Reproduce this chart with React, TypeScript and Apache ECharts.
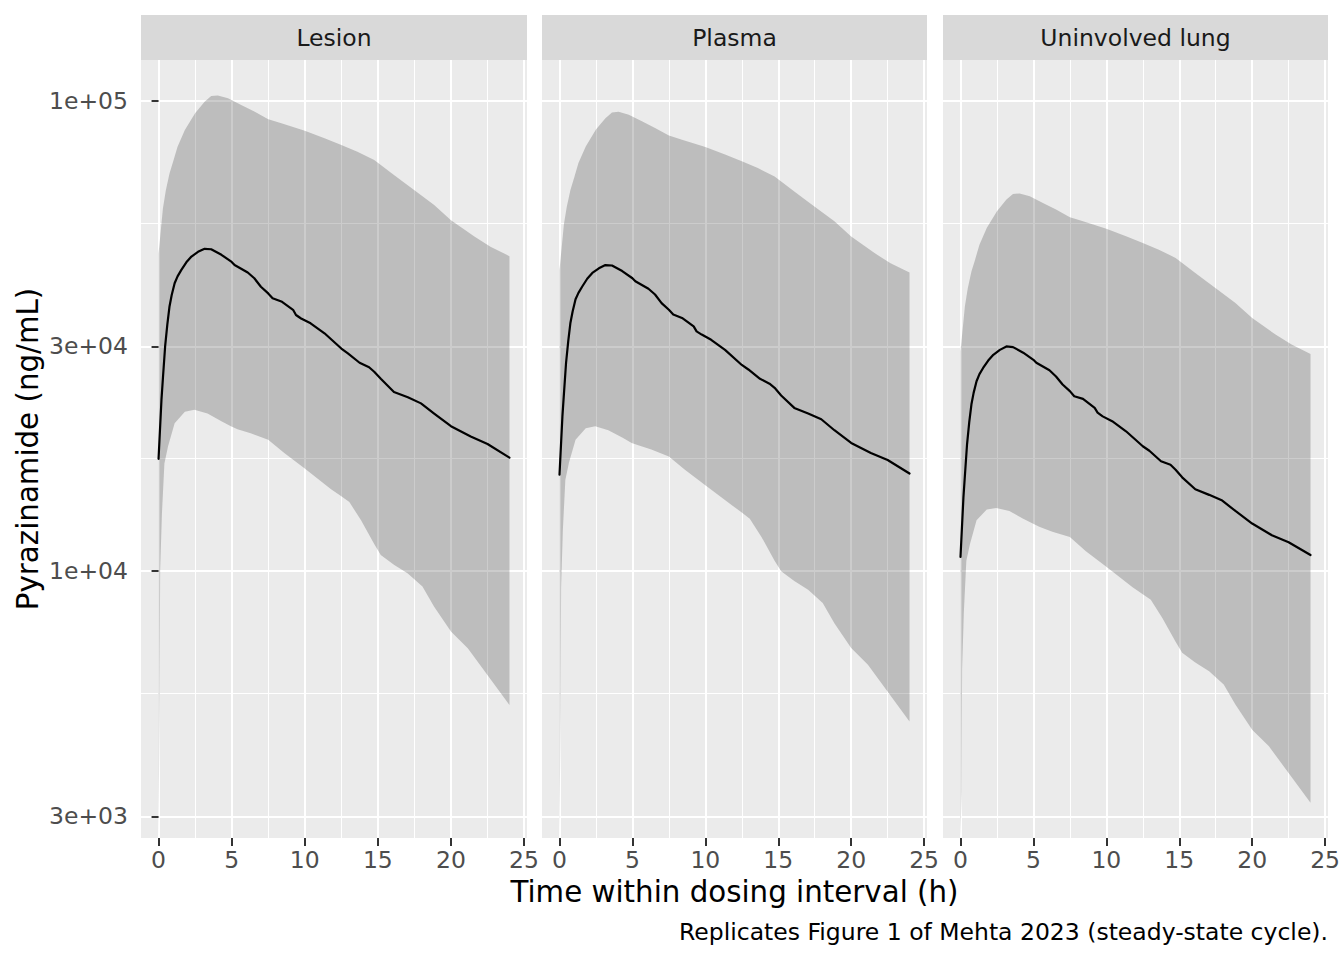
import React, { useEffect, useRef } from "react";
import * as echarts from "echarts";

// ---------- data ----------
const PANELS = ["Lesion", "Plasma", "Uninvolved lung"];

const X_TICKS = [0, 5, 10, 15, 20, 25];
const X_MINOR = [2.5, 7.5, 12.5, 17.5, 22.5];
const Y_TICK_VALUES = [3000, 10000, 30000, 100000];
const Y_TICK_LABELS = ["3e+03", "1e+04", "3e+04", "1e+05"];
const Y_MINOR_VALUES = [5477, 17321, 54772];

// median line
const MED_T = [0, 0.2, 0.3, 0.45, 0.6, 0.75, 0.9, 1.1, 1.3, 1.55, 1.9, 2.25, 2.7, 3.15, 3.6, 4.3, 5, 5.2, 6.1, 6.55, 7, 7.5, 7.8, 8.4, 9.2, 9.4, 9.75, 10.4, 11.35, 12.5, 12.95, 13.75, 14.4, 14.75, 15.2, 16.1, 17.05, 17.95, 18.85, 20, 21.35, 22.5, 24];
const MED_LESION = [17300, 23100, 25700, 30000, 33400, 36500, 38600, 40900, 42300, 43600, 45300, 46600, 47700, 48400, 48300, 47000, 45400, 44700, 43100, 41900, 40200, 38900, 38000, 37400, 35900, 35000, 34400, 33600, 32000, 29700, 29000, 27700, 27100, 26500, 25600, 24000, 23400, 22700, 21600, 20300, 19300, 18600, 17400];
const MED_PLASMA = [16000, 21300, 23700, 27700, 30800, 33700, 35600, 37800, 39000, 40200, 41800, 43000, 44000, 44700, 44600, 43400, 41900, 41300, 39800, 38700, 37100, 35900, 35100, 34500, 33100, 32300, 31800, 31000, 29500, 27400, 26800, 25600, 25000, 24500, 23600, 22200, 21600, 21000, 19900, 18700, 17800, 17200, 16100];
const MED_LUNG = [10700, 14300, 15900, 18600, 20700, 22600, 23900, 25300, 26200, 27000, 28000, 28800, 29500, 30000, 29900, 29100, 28100, 27700, 26700, 25900, 24900, 24100, 23500, 23200, 22200, 21700, 21300, 20800, 19800, 18400, 18000, 17100, 16800, 16400, 15800, 14900, 14500, 14100, 13400, 12600, 11900, 11500, 10800];

// upper bound of interval
const UP_T = [0, 0.09, 0.18, 0.3, 0.5, 0.75, 1, 1.3, 1.8, 2.5, 3.15, 3.6, 4.05, 4.75, 5.65, 6.55, 7.5, 8.4, 10, 11.35, 12.5, 13.6, 14.75, 16.1, 17.5, 18.85, 20, 21.6, 22.7, 24];
const UP_LESION = [47300, 50500, 54000, 59000, 64500, 70000, 74200, 79800, 86600, 94000, 99500, 102300, 102600, 101200, 97900, 94800, 91300, 89500, 86300, 83200, 80500, 77900, 74800, 69500, 64500, 60000, 55700, 51400, 48900, 46700];
const UP_PLASMA = [43700, 46600, 49800, 54500, 59500, 64600, 68500, 73700, 79900, 86800, 91800, 94400, 94700, 93400, 90400, 87500, 84300, 82600, 79700, 76800, 74300, 71900, 69000, 64100, 59500, 55400, 51400, 47400, 45100, 43100];
const UP_LUNG = [29300, 31300, 33400, 36500, 39900, 43300, 45900, 49400, 53600, 58200, 61600, 63300, 63500, 62600, 60600, 58700, 56500, 55400, 53400, 51500, 49800, 48200, 46300, 43000, 39900, 37100, 34500, 31800, 30300, 28900];

// lower bound of interval (0 at t = 0)
const LO_T = [0, 0.07, 0.11, 0.23, 0.4, 0.65, 1.1, 1.8, 2.45, 3.35, 4.3, 4.95, 5.4, 6.3, 7.5, 8.6, 10, 11.8, 12.5, 13.05, 13.85, 14.75, 15.2, 16.1, 17.05, 18.05, 18.85, 20, 21.15, 24];
const LO_LESION = [0, 5480, 10000, 13200, 16900, 18400, 20600, 21800, 22000, 21600, 20800, 20300, 20000, 19600, 19000, 17800, 16500, 14900, 14400, 14000, 12800, 11400, 10800, 10300, 9870, 9250, 8380, 7420, 6840, 5180];
const LO_PLASMA = [0, 5060, 9230, 12200, 15600, 17000, 19000, 20100, 20300, 19900, 19200, 18700, 18500, 18100, 17500, 16400, 15200, 13800, 13300, 12900, 11800, 10500, 9970, 9510, 9110, 8540, 7730, 6850, 6310, 4780];
const LO_LUNG = [0, 3390, 6190, 8170, 10500, 11400, 12800, 13500, 13600, 13400, 12900, 12600, 12400, 12100, 11800, 11000, 10200, 9220, 8910, 8670, 7920, 7060, 6690, 6380, 6110, 5730, 5190, 4590, 4230, 3210];

const MEDIANS = [MED_LESION, MED_PLASMA, MED_LUNG];
const UPPERS = [UP_LESION, UP_PLASMA, UP_LUNG];
const LOWERS = [LO_LESION, LO_PLASMA, LO_LUNG];

// ---------- layout ----------
const X_MIN = -1.2;
const X_MAX = 25.2;
const Y_MIN = 3.4313;
const Y_MAX = 5.0866;
const GRID_LEFT = [141, 542, 943];
const GRID_WIDTH = [386, 385, 385];
const GRID_TOP = 60;
const GRID_HEIGHT = 778;
const FONT = '"DejaVu Sans", sans-serif';
const SMALL = 23.5;
const BIG = 29.3;

const lg = (v: number) => (v <= 0 ? Y_MIN : Math.log10(v));

export default function App() {
  const ref = useRef<HTMLDivElement>(null);

  useEffect(() => {
    if (!ref.current) return;
    const chart = echarts.init(ref.current, undefined, { renderer: "svg" });

    const grids: any[] = [];
    const xAxes: any[] = [];
    const yAxes: any[] = [];
    const series: any[] = [];
    const graphics: any[] = [];

    const yMajor = Y_TICK_VALUES.map((v) => Math.log10(v));
    const yMinor = Y_MINOR_VALUES.map((v) => Math.log10(v));
    const yLabel = (val: number) => {
      let best = 0;
      let d = Infinity;
      yMajor.forEach((m, i) => {
        if (Math.abs(m - val) < d) {
          d = Math.abs(m - val);
          best = i;
        }
      });
      return Y_TICK_LABELS[best];
    };

    PANELS.forEach((name, i) => {
      grids.push({
        left: GRID_LEFT[i],
        top: GRID_TOP,
        width: GRID_WIDTH[i],
        height: GRID_HEIGHT,
        show: true,
        backgroundColor: "#ebebeb",
        borderWidth: 0,
      });
      xAxes.push({
        type: "value",
        gridIndex: i,
        min: X_MIN,
        max: X_MAX,
        axisLine: { show: false },
        axisTick: {
          show: true,
          length: 8,
          customValues: X_TICKS,
          lineStyle: { color: "#333333", width: 2 },
        },
        axisLabel: {
          show: true,
          customValues: X_TICKS,
          margin: 10,
          color: "#4d4d4d",
          fontSize: SMALL,
          fontFamily: FONT,
        },
        splitLine: { show: true, lineStyle: { color: "#ffffff", width: 2 } },
      });
      xAxes.push({
        type: "value",
        gridIndex: i,
        min: X_MIN,
        max: X_MAX,
        axisLine: { show: false },
        axisTick: { show: false, customValues: X_MINOR },
        axisLabel: { show: false, customValues: X_MINOR },
        splitLine: { show: true, lineStyle: { color: "#ffffff", width: 1 } },
      });
      yAxes.push({
        type: "value",
        gridIndex: i,
        min: Y_MIN,
        max: Y_MAX,
        axisLine: { show: false },
        axisTick: {
          show: i === 0,
          length: 7,
          customValues: yMajor,
          lineStyle: { color: "#333333", width: 2 },
        },
        axisLabel: {
          show: i === 0,
          customValues: yMajor,
          formatter: yLabel,
          margin: 13,
          color: "#4d4d4d",
          fontSize: SMALL,
          fontFamily: FONT,
        },
        splitLine: { show: true, lineStyle: { color: "#ffffff", width: 2 } },
      });
      yAxes.push({
        type: "value",
        gridIndex: i,
        min: Y_MIN,
        max: Y_MAX,
        axisLine: { show: false },
        axisTick: { show: false, customValues: yMinor },
        axisLabel: { show: false, customValues: yMinor },
        splitLine: { show: true, lineStyle: { color: "#ffffff", width: 1 } },
      });

      const up = UPPERS[i];
      const lo = LOWERS[i];
      series.push({
        type: "custom",
        xAxisIndex: 2 * i,
        yAxisIndex: 2 * i,
        silent: true,
        z: 2,
        data: [[0, 4]],
        encode: { x: 0, y: 1 },
        renderItem: (_params: any, api: any) => {
          const pts: number[][] = [];
          for (let k = 0; k < UP_T.length; k++) pts.push(api.coord([UP_T[k], lg(up[k])]));
          for (let k = LO_T.length - 1; k >= 0; k--) pts.push(api.coord([LO_T[k], lg(lo[k])]));
          return {
            type: "polygon",
            shape: { points: pts },
            style: { fill: "rgba(51,51,51,0.25)", stroke: "none" },
          };
        },
      });
      series.push({
        type: "line",
        xAxisIndex: 2 * i,
        yAxisIndex: 2 * i,
        z: 3,
        silent: true,
        showSymbol: false,
        symbol: "none",
        lineStyle: { color: "#000000", width: 2.2, join: "round", cap: "round" },
        data: MED_T.map((t, k) => [t, lg(MEDIANS[i][k])]),
      });

      graphics.push({
        type: "rect",
        shape: { x: GRID_LEFT[i], y: 15, width: GRID_WIDTH[i], height: 45 },
        style: { fill: "#d9d9d9" },
        silent: true,
      });
      graphics.push({
        type: "text",
        x: GRID_LEFT[i] + GRID_WIDTH[i] / 2,
        y: 38,
        style: {
          text: name,
          fill: "#1a1a1a",
          fontSize: SMALL,
          fontFamily: FONT,
          textAlign: "center",
          textVerticalAlign: "middle",
          align: "center",
          verticalAlign: "middle",
        },
        silent: true,
      });
    });

    graphics.push({
      type: "text",
      x: (GRID_LEFT[0] + GRID_LEFT[2] + GRID_WIDTH[2]) / 2,
      y: 892,
      style: {
        text: "Time within dosing interval (h)",
        fill: "#000000",
        fontSize: BIG,
        fontFamily: FONT,
        textAlign: "center",
        textVerticalAlign: "middle",
        align: "center",
        verticalAlign: "middle",
      },
      silent: true,
    });
    graphics.push({
      type: "text",
      x: 28,
      y: GRID_TOP + GRID_HEIGHT / 2,
      rotation: Math.PI / 2,
      style: {
        text: "Pyrazinamide (ng/mL)",
        fill: "#000000",
        fontSize: BIG,
        fontFamily: FONT,
        textAlign: "center",
        textVerticalAlign: "middle",
        align: "center",
        verticalAlign: "middle",
      },
      silent: true,
    });
    graphics.push({
      type: "text",
      x: GRID_LEFT[2] + GRID_WIDTH[2],
      y: 932,
      style: {
        text: "Replicates Figure 1 of Mehta 2023 (steady-state cycle).",
        fill: "#000000",
        fontSize: SMALL,
        fontFamily: FONT,
        textAlign: "right",
        textVerticalAlign: "middle",
        align: "right",
        verticalAlign: "middle",
      },
      silent: true,
    });

    chart.setOption({
      animation: false,
      backgroundColor: "#ffffff",
      grid: grids,
      xAxis: xAxes,
      yAxis: yAxes,
      series,
      graphic: graphics,
    });

    return () => chart.dispose();
  }, []);

  return (
    <div
      ref={ref}
      style={{ position: "fixed", left: 0, top: 0, width: 1344, height: 960, background: "#fff" }}
    />
  );
}
